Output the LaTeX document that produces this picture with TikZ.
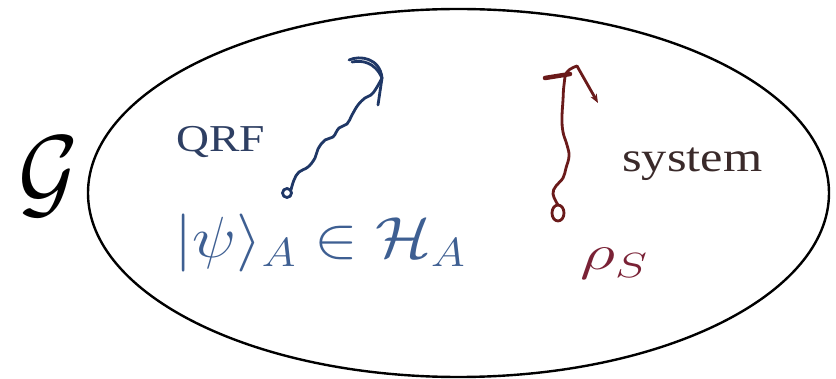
\RequirePackage{fix-cm}
\documentclass[tikz,border=0pt]{standalone}
\usepackage{fontspec}
\setmainfont{Liberation Serif}
\usetikzlibrary{decorations.pathmorphing,arrows.meta,shapes.geometric}
\definecolor{qblue}{HTML}{1F3766}
\definecolor{qtext}{HTML}{2E3F63}
\definecolor{psiblue}{HTML}{3E5F92}
\definecolor{sred}{HTML}{6A1A1A}
\definecolor{rhored}{HTML}{7A2236}
\definecolor{systext}{HTML}{3A2A2A}
\begin{document}
\begin{tikzpicture}[x=1pt,y=-1pt,
  squig/.style={line width=2.8pt,line cap=round,line join=round},
  lbl/.style={inner sep=0pt,anchor=base west,xscale=1.2}]
\useasboundingbox (0,0) rectangle (836,379);
\fill[white] (0,0) rectangle (836,379);
% ellipse
\node[draw,line width=2.4pt,ellipse,minimum width=741pt,minimum height=368pt,inner sep=0pt] (ell) at (458.5,193) {};
% labels
\node[lbl,xscale=0.75] (G) at (18,207) {\fontsize{102}{102}\selectfont$\mathcal{G}$};
\node[lbl,text=qtext] (qrf) at (176,152) {\fontsize{38}{40}\selectfont QRF};
\node[lbl,text=systext] (sys) at (622,172) {\fontsize{42}{44}\selectfont system};
\node[lbl,text=psiblue,xscale=0.94] (psi) at (174,258) {\fontsize{58}{60}\selectfont$|\psi\rangle_A\in\mathcal{H}_A$};
\node[lbl,text=rhored,xscale=1.15] (rho) at (580,270) {\fontsize{50}{52}\selectfont$\rho_S$};
% blue squiggle
\coordinate (bs) at (287,193);
\coordinate (bt) at (382,78);
\draw[squig,qblue] (bs) circle[radius=4.5pt];
\draw[squig,qblue] plot[smooth,tension=0.7] coordinates {(291,190) (294,180) (299,172) (308,167) (315,158) (318,149) (325,140) (333,137) (339,128) (347,124) (352,115) (358,105) (365,98) (373,93) (382,78)};
\draw[squig,qblue] (bt) .. controls (380,58) and (360,55) .. (349,60);
\draw[squig,qblue] (352,62) .. controls (362,60) and (375,62) .. (bt);
\draw[squig,qblue] (bt) -- (378,105);
% red squiggle
\coordinate (rs) at (558,213);
\coordinate (rt) at (577,66);
\coordinate (re) at (598,103);
\draw[squig,sred] (rs) ellipse[x radius=6pt,y radius=8pt];
\draw[squig,sred] plot[smooth,tension=0.7] coordinates {(558,205) (553,194) (556,186) (563,178) (566,168) (569,156) (567,145) (563,132) (562,118) (563,100) (564,85) (567,72) (rt)};
\draw[squig,sred,-{Stealth[length=9pt,width=7pt]}] (rt) -- (re);
\draw[sred,line width=4.5pt,line cap=round] (570,74) -- (545,78);
\end{tikzpicture}
\end{document}
